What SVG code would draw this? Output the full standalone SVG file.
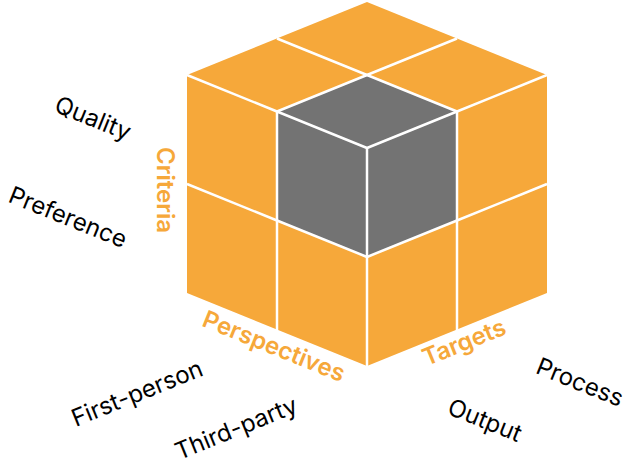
<svg xmlns="http://www.w3.org/2000/svg" width="632" height="466" viewBox="0 0 632 466">
<style>
.w{stroke:#fff;stroke-width:2.5;fill:none;stroke-linejoin:round}
.t{font-family:Inter,"Liberation Sans",sans-serif;font-size:24px;fill:#000;text-anchor:middle;dominant-baseline:central}
.o{font-family:Inter,"Liberation Sans",sans-serif;font-size:24px;font-weight:600;fill:#F6A83A;text-anchor:middle;dominant-baseline:central}
</style>
<g id="cube">
<polygon points="367,2 547,75 547,293 367,366 187,293 187,75" fill="#F6A83A"/>
<polygon points="367,75 457,111.5 457,220.5 367,257 277,220.5 277,111.5" fill="#737373"/>
<g class="w">
<polyline points="277,38.5 367,75 457,38.5"/>
<polyline points="187,75 277,111.5 367,148 457,111.5 547,75"/>
<polyline points="277,111.5 367,75 457,111.5"/>
<polyline points="187,184 277,220.5 367,257 457,220.5 547,184"/>
<line x1="277" y1="111.5" x2="277" y2="330.5"/>
<line x1="457" y1="111.5" x2="457" y2="330.5"/>
<line x1="367" y1="148" x2="367" y2="366"/>
</g>
</g>
<g id="labels">
<text class="o" transform="translate(165,190) rotate(90)">Criteria</text>
<text class="o" transform="translate(274,346) rotate(22)">Perspectives</text>
<text class="o" transform="translate(464,342) rotate(-22)">Targets</text>
<text class="t" transform="translate(93,118) rotate(22)">Quality</text>
<text class="t" transform="translate(68,217) rotate(22)">Preference</text>
<text class="t" transform="translate(137,393) rotate(-22)">First-person</text>
<text class="t" transform="translate(236,428) rotate(-22)">Third-party</text>
<text class="t" transform="translate(485,420) rotate(22)">Output</text>
<text class="t" transform="translate(580,382) rotate(22)">Process</text>
</g>
<g id="connectors"/>
</svg>
